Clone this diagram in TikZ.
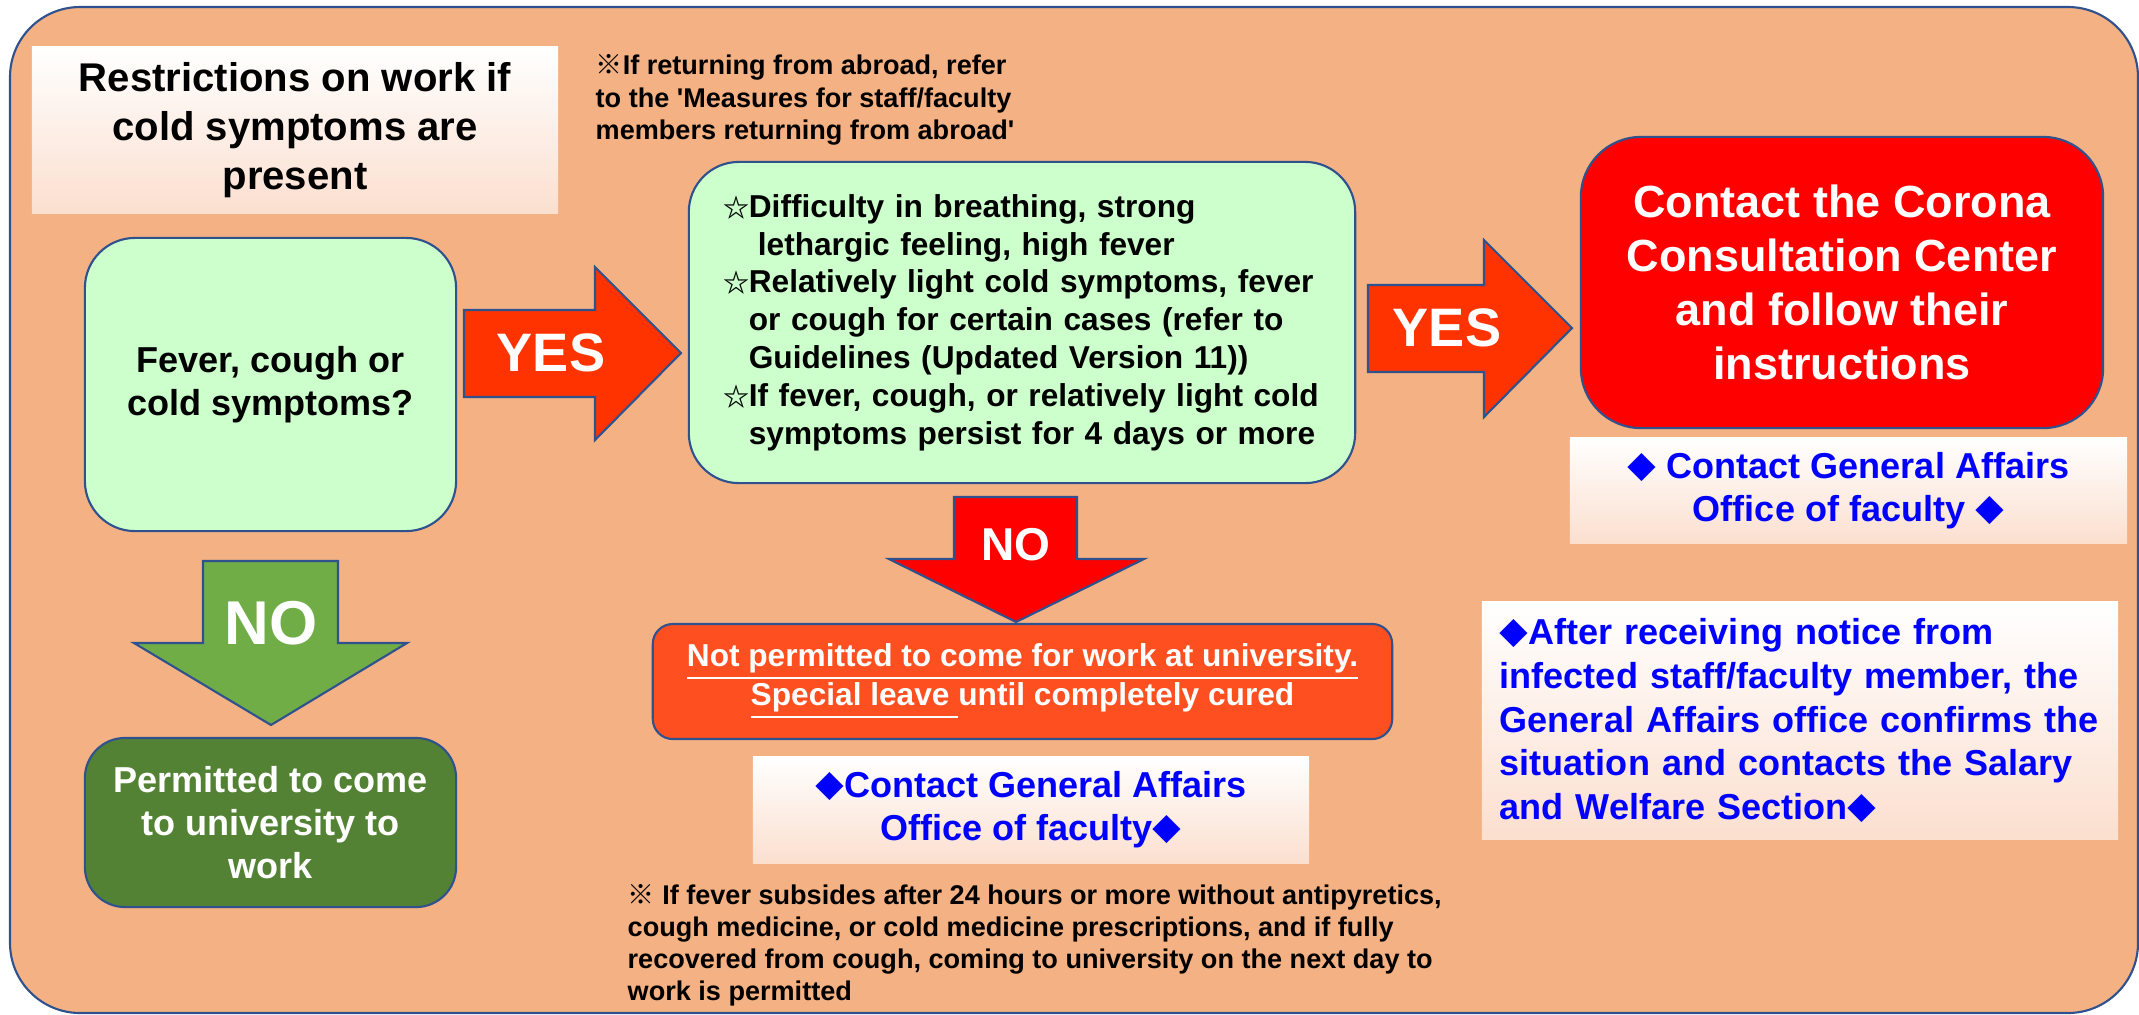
\documentclass[tikz,border=0pt]{standalone}
\usepackage{fontspec}
\setmainfont{Liberation Sans}
\newfontfamily\cjk{Noto Sans CJK JP}

\definecolor{framefill}{HTML}{F4B183}
\definecolor{edgeblue}{HTML}{2F528F}
\definecolor{palegreen}{HTML}{CCFFCC}
\definecolor{yesred}{HTML}{FF3300}
\definecolor{alertred}{HTML}{FF0000}
\definecolor{leaveorange}{HTML}{FD4F1F}
\definecolor{nogreen}{HTML}{70AD47}
\definecolor{okgreen}{HTML}{548235}
\definecolor{notepeach}{HTML}{FBDFCF}
\definecolor{infoblue}{HTML}{0000FF}

\newcommand{\stmark}{\makebox[0.25cm][l]{\cjk\fontsize{7.4}{7.4}\selectfont ☆}}
\newcommand{\dmark}{{\cjk\fontsize{8.2}{8.2}\selectfont ◆}}

\begin{document}
\begin{tikzpicture}[x=0.01cm, y=-0.01cm,
	box/.style={rectangle, rounded corners=0.5cm, draw=edgeblue, line width=0.6pt, align=center, inner sep=0pt},
	notebox/.style={rectangle, top color=white, bottom color=notepeach, align=center, inner sep=0pt},
	blockarrow/.style={draw=edgeblue, line width=0.6pt},
	txt-small/.style={font=\fontsize{7.7}{9.3}\selectfont\bfseries},
	txt-mid/.style={font=\fontsize{10.25}{12.3}\selectfont\bfseries}]

		\useasboundingbox (0,0) rectangle (2139,1014);
		\draw[fill=framefill, draw=edgeblue, line width=0.6pt, rounded corners=0.7cm] (10,7) rectangle (2138,1013);

		\node(title)[notebox, minimum width=5.26cm, minimum height=1.66cm, font=\fontsize{11.4}{13.9}\selectfont\bfseries] at (295,130) {Restrictions on work if\\cold symptoms are\\present};
		\node(abroad)[anchor=west, inner sep=0pt, align=left, txt-small] at (595,100) {{\cjk ※}If returning from abroad, refer\\to the \textquotesingle Measures for staff/faculty\\members returning from abroad\textquotesingle};

		\node(fever)[box, fill=palegreen, minimum width=3.71cm, minimum height=2.93cm, txt-mid] at (270.5,384.5) {Fever, cough or\\cold symptoms?};
		\node(symptoms)[box, fill=palegreen, text width=5.96cm, inner xsep=0.35cm, minimum height=3.21cm, align=left, font=\fontsize{9}{10.75}\selectfont\bfseries] at (1022,322.5) {\stmark Difficulty in breathing, strong\\\hspace*{0.34cm}lethargic feeling, high fever\\\stmark Relatively light cold symptoms, fever\\\hspace*{0.25cm}or cough for certain cases (refer to\\\hspace*{0.25cm}Guidelines (Updated Version 11))\\\stmark If fever, cough, or relatively light cold\\\hspace*{0.25cm}symptoms persist for 4 days or more};
		\node(corona)[box, fill=alertred, text=white, rounded corners=0.6cm, minimum width=5.22cm, minimum height=2.91cm, font=\fontsize{12.8}{15.4}\selectfont\bfseries] at (1842,282.5) {Contact the Corona\\Consultation Center\\and follow their\\instructions};
		\node(contact-1)[notebox, text=infoblue, minimum width=5.57cm, minimum height=1.05cm, txt-mid] at (1848.5,490.5) {\dmark{} Contact General Affairs\\Office of faculty \dmark};

		\node(not-permitted)[box, fill=leaveorange, text=white, rounded corners=0.2cm, minimum width=7.39cm, minimum height=1.15cm, font=\fontsize{9}{11.1}\selectfont\bfseries] at (1022.5,681.5) {\underline{Not permitted to come for work at university.}\\\underline{Special leave }until completely cured};
		\node(contact-2)[notebox, text=infoblue, minimum width=5.56cm, minimum height=1.06cm, txt-mid] at (1031,810) {\dmark Contact General Affairs\\Office of faculty\dmark};
		\node(recovery)[anchor=west, inner sep=0pt, align=left, font=\fontsize{7.7}{9.1}\selectfont\bfseries] at (627,945) {{\cjk ※} If fever subsides after 24 hours or more without antipyretics,\\cough medicine, or cold medicine prescriptions, and if fully\\recovered from cough, coming to university on the next day to\\work is permitted};

		\node(permitted)[box, fill=okgreen, text=white, rounded corners=0.4cm, minimum width=3.71cm, minimum height=1.69cm, txt-mid] at (270.5,822.5) {Permitted to come\\to university to\\work};
		\node(salary)[notebox, text=infoblue, text width=6cm, inner xsep=0.18cm, minimum height=2.37cm, align=left, font=\fontsize{10.25}{12.4}\selectfont\bfseries] at (1800,720.5) {\dmark After receiving notice from\\infected staff/faculty member, the\\General Affairs office confirms the\\situation and contacts the Salary\\and Welfare Section\dmark};

		% block arrows
		\draw[blockarrow, fill=yesred] (464,310) -- (595,310) -- (595,267) -- (681,353) -- (595,440) -- (595,397) -- (464,397) -- cycle;
		\node(yes-1)[text=white, font=\fontsize{15.4}{15.4}\selectfont\bfseries] at (551,353) {YES};
		\draw[blockarrow, fill=yesred] (1368,285) -- (1484,285) -- (1484,240) -- (1572,328) -- (1484,417) -- (1484,372) -- (1368,372) -- cycle;
		\node(yes-2)[text=white, font=\fontsize{15.4}{15.4}\selectfont\bfseries] at (1447,328) {YES};
		\draw[blockarrow, fill=alertred] (954,497) -- (1077,497) -- (1077,559) -- (1144,559) -- (1016,622) -- (889,559) -- (954,559) -- cycle;
		\node(no-2)[text=white, font=\fontsize{13.1}{13.1}\selectfont\bfseries] at (1016,545) {NO};
		\draw[blockarrow, fill=nogreen] (203,561) -- (338,561) -- (338,643) -- (407,643) -- (271,725) -- (134,643) -- (203,643) -- cycle;
		\node(no-1)[text=white, font=\fontsize{17.6}{17.6}\selectfont\bfseries] at (271,623) {NO};
	\end{tikzpicture}
\end{document}
